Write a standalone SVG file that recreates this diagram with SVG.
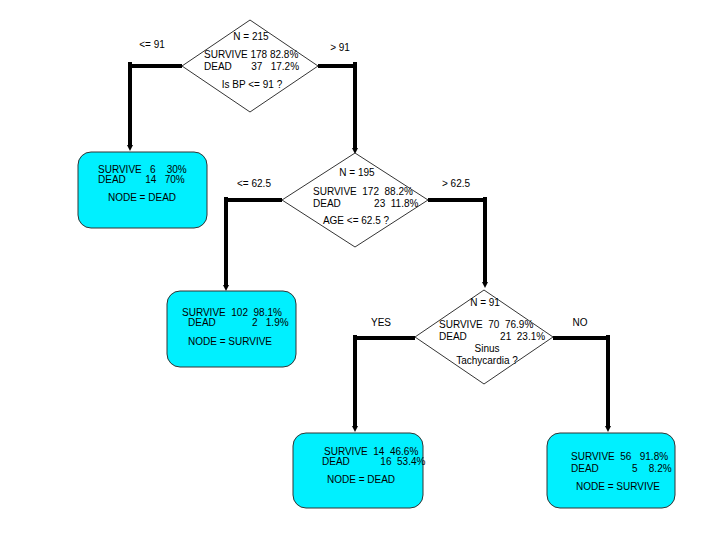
<svg xmlns="http://www.w3.org/2000/svg" width="720" height="540" viewBox="0 0 720 540">
<defs>
<marker id="ah" markerWidth="4" markerHeight="4" refX="2" refY="2" orient="auto" markerUnits="userSpaceOnUse">
<path d="M0,0 L4,2 L0,4 Z" fill="#000"/>
</marker>
<style>
text{font-family:"Liberation Sans",Arial,sans-serif;font-size:10px;fill:#000}
.c{text-anchor:middle}
.dia{fill:#fff;stroke:#000;stroke-width:0.8}
.leaf{fill:#00f0ff;stroke:#333;stroke-width:1}
.ln{fill:none;stroke:#000;stroke-width:4}
</style>
</defs>
<rect width="720" height="540" fill="#fff"/>
<g id="connectors">
<path class="ln" d="M182,66 H132 M130,62 V146" />
<path d="M127,145 L133,145 L130,151 Z"/>
<path class="ln" d="M318,66 H357 M355,62 V149" />
<path d="M352,148 L358,148 L355,154 Z"/>
<path class="ln" d="M282,200 H228 M226,197 V286" />
<path d="M223,285 L229,285 L226,291 Z"/>
<path class="ln" d="M428,200 H487 M485,197 V283" />
<path d="M482,282 L488,282 L485,288 Z"/>
<path class="ln" d="M415,338 H357 M355,335 V427" />
<path d="M352,426 L358,426 L355,432 Z"/>
<path class="ln" d="M553,338 H610 M608,335 V427" />
<path d="M605,426 L611,426 L608,432 Z"/>
<text x="152" y="48" class="c">&lt;= 91</text>
<text x="340" y="51" class="c">&gt; 91</text>
<text x="254" y="187" class="c">&lt;= 62.5</text>
<text x="456" y="187" class="c">&gt; 62.5</text>
<text x="381" y="326" class="c">YES</text>
<text x="580" y="326" class="c">NO</text>
</g>
<g id="root">
<polygon class="dia" points="250,20 318,66 250,112 182,66"/>
<text x="251" y="40" class="c">N = 215</text>
<text x="204" y="58">SURVIVE 178  82.8%</text>
<text x="204" y="70" xml:space="preserve">DEAD       37   17.2%</text>
<text x="252" y="88" class="c">Is BP &lt;= 91 ?</text>
</g>
<g id="leaf1">
<rect class="leaf" x="78" y="152" width="129" height="76" rx="13"/>
<text x="98" y="173" xml:space="preserve">SURVIVE   6    30%</text>
<text x="98" y="183" xml:space="preserve">DEAD       14   70%</text>
<text x="142" y="201" class="c">NODE = DEAD</text>
</g>
<g id="age">
<polygon class="dia" points="355,153 428,200 355,247 282,200"/>
<text x="357" y="176" class="c">N = 195</text>
<text x="313" y="195" xml:space="preserve">SURVIVE  172  88.2%</text>
<text x="313" y="207" xml:space="preserve">DEAD            23  11.8%</text>
<text x="356" y="224" class="c">AGE &lt;= 62.5 ?</text>
</g>
<g id="leaf2">
<rect class="leaf" x="167" y="291" width="129" height="76" rx="13"/>
<text x="182" y="316" xml:space="preserve">SURVIVE  102  98.1%</text>
<text x="188" y="326" xml:space="preserve">DEAD             2   1.9%</text>
<text x="230" y="345" class="c">NODE = SURVIVE</text>
</g>
<g id="sinus">
<polygon class="dia" points="484,290 553,337 484,384 415,337"/>
<text x="485" y="306" class="c">N = 91</text>
<text x="439" y="328" xml:space="preserve">SURVIVE  70  76.9%</text>
<text x="439" y="340" xml:space="preserve">DEAD            21  23.1%</text>
<text x="487" y="352" class="c">Sinus</text>
<text x="487" y="364" class="c">Tachycardia ?</text>
</g>
<g id="leaf3">
<rect class="leaf" x="293" y="433" width="130" height="75" rx="13"/>
<text x="324" y="455" xml:space="preserve">SURVIVE  14  46.6%</text>
<text x="322" y="465" xml:space="preserve">DEAD           16  53.4%</text>
<text x="327" y="483">NODE = DEAD</text>
</g>
<g id="leaf4">
<rect class="leaf" x="547" y="433" width="128" height="75" rx="13"/>
<text x="571" y="460" xml:space="preserve">SURVIVE  56   91.8%</text>
<text x="571" y="472" xml:space="preserve">DEAD            5    8.2%</text>
<text x="576" y="490">NODE = SURVIVE</text>
</g>
</svg>
